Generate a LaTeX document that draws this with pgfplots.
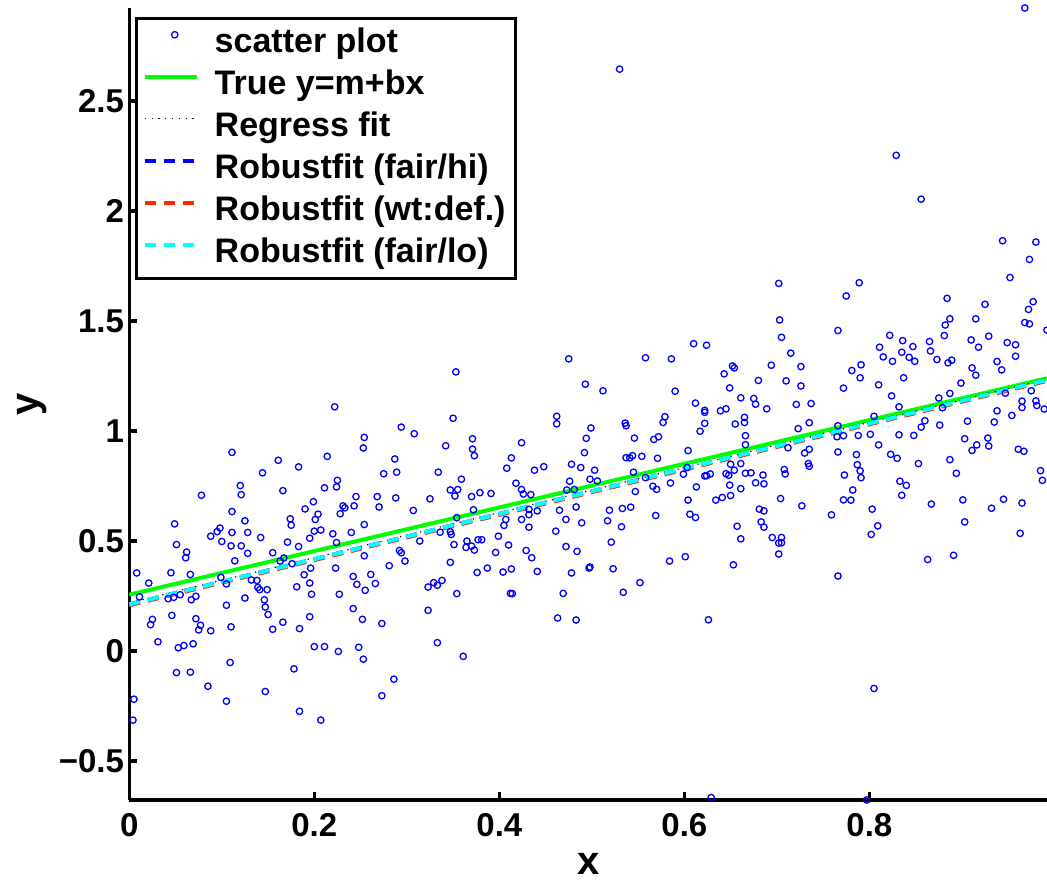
\documentclass[border=0pt]{standalone}
\usepackage{fontspec}
\setmainfont{Liberation Sans}
\usepackage{pgfplots}
\pgfplotsset{compat=1.18}
\definecolor{mred}{rgb}{1,0.16,0}
\definecolor{mcyan}{rgb}{0,1,1}
\definecolor{mgreen}{rgb}{0,1,0}
\definecolor{mblue}{rgb}{0,0,1}
\pgfplotsset{
  lineleg/.style={legend image code/.code={\draw[##1] (0pt,4.5pt) -- (26pt,4.5pt); \path (0pt,0pt) (32pt,0pt);}},
  dotleg/.style={legend image code/.code={\draw[##1] plot coordinates {(15pt,4.5pt)}; \path (0pt,0pt) (32pt,0pt);}},
}
\begin{document}
\begin{tikzpicture}
\begin{axis}[
  scale only axis, width=458.85pt, height=396pt,
  xmin=0, xmax=0.992, ymin=-0.677, ymax=2.923,
  clip=false,
  axis x line*=bottom, axis y line*=left,
  axis line style={line width=1.75pt, -},
  xtick pos=bottom, ytick pos=left,
  xtick={0,0.2,0.4,0.6,0.8}, xticklabels={0,0.2,0.4,0.6,0.8},
  ytick={-0.5,0,0.5,1,1.5,2,2.5}, yticklabels={−0.5,0,0.5,1,1.5,2,2.5},
  tick align=inside, major tick length=4pt,
  major tick style={line width=1.75pt, black},
  tick label style={font=\bfseries\fontsize{16.5}{18}\selectfont},
  yticklabel style={inner xsep=2.5pt},
  xticklabel style={inner ysep=6.5pt},
  xlabel={x}, ylabel={y},
  label style={font=\bfseries\fontsize{20}{22}\selectfont},
  xlabel style={at={(axis description cs:0.5,-0.094)}, anchor=base},
  ylabel style={at={(axis description cs:-0.0994,0.5)}, anchor=base},
  legend cell align=left,
  legend style={at={(axis description cs:0,1)}, anchor=north west,
    xshift=2.85pt, yshift=-4.5pt, draw=black, line width=1.75pt,
    font=\bfseries\fontsize{17}{20}\selectfont,
    inner xsep=3pt, inner ysep=4pt, row sep=4pt,
    nodes={inner xsep=2pt, inner ysep=0pt, text height=13pt, text depth=4pt}},
]
% scatter of the data
\addplot[only marks, mark=o, mark size=1.6pt, mblue, line width=0.65pt, dotleg]
coordinates {
(0.222,1.110) (0.294,1.018) (0.308,0.988) (0.254,0.971) (0.253,0.923) (0.111,0.903) (0.214,0.885) (0.161,0.867)
(0.287,0.873) (0.183,0.837) (0.144,0.810) (0.275,0.806) (0.289,0.813) (0.334,0.813) (0.225,0.776) (0.211,0.742)
(0.224,0.746) (0.120,0.752) (0.166,0.729) (0.078,0.708) (0.121,0.711) (0.245,0.702) (0.268,0.702) (0.288,0.696)
(0.325,0.692) (0.199,0.679) (0.231,0.660) (0.233,0.651) (0.243,0.660) (0.270,0.655) (0.190,0.646) (0.111,0.634)
(0.307,0.639) (0.204,0.622) (0.228,0.624) (0.174,0.601) (0.201,0.598) (0.125,0.592) (0.049,0.578) (0.175,0.572)
(0.254,0.575) (0.098,0.559) (0.095,0.543) (0.111,0.539) (0.128,0.539) (0.200,0.545) (0.207,0.550) (0.220,0.533)
(0.240,0.539) (0.088,0.522) (0.142,0.516) (0.195,0.513)
(0.051,0.484) (0.100,0.498) (0.110,0.478) (0.121,0.478) (0.171,0.495) (0.183,0.475) (0.224,0.493) (0.314,0.500)
(0.062,0.450) (0.061,0.424) (0.128,0.444) (0.155,0.447) (0.114,0.410) (0.167,0.423) (0.163,0.409) (0.254,0.433)
(0.292,0.457) (0.294,0.447) (0.298,0.409) (0.008,0.355) (0.045,0.356) (0.066,0.348) (0.176,0.397) (0.189,0.347)
(0.196,0.377) (0.223,0.377) (0.281,0.388) (0.021,0.309) (0.099,0.335) (0.105,0.305) (0.132,0.323) (0.138,0.321)
(0.139,0.289) (0.141,0.279) (0.149,0.279) (0.181,0.292) (0.195,0.309) (0.242,0.339) (0.246,0.303) (0.255,0.276)
(0.261,0.348) (0.266,0.307) (0.323,0.291) (0.329,0.311) (0.333,0.299) (0.011,0.246) (0.042,0.238) (0.048,0.244)
(0.055,0.256) (0.067,0.233) (0.072,0.249) (0.125,0.241) (0.146,0.233) (0.197,0.258) (0.227,0.258) (0.105,0.208)
(0.147,0.200) (0.150,0.166) (0.242,0.193) (0.323,0.185) (0.046,0.162) (0.072,0.147) (0.195,0.156) (0.252,0.144)
(0.273,0.125) (0.025,0.144) (0.023,0.120) (0.077,0.117) (0.075,0.096) (0.088,0.092) (0.110,0.110) (0.155,0.099)
(0.166,0.131) (0.184,0.102) (0.031,0.042) (0.053,0.015) (0.059,0.025) (0.069,0.033) (0.200,0.020) (0.211,0.020)
(0.226,-0.002) (0.248,0.017) (0.253,-0.037) (0.333,0.038) (0.109,-0.052) (0.051,-0.098) (0.066,-0.096) (0.178,-0.081)
(0.085,-0.160) (0.286,-0.128) (0.147,-0.184) (0.273,-0.203) (0.005,-0.219) (0.105,-0.228) (0.184,-0.274) (0.207,-0.314)
(0.004,-0.314)
(0.610,1.397) (0.624,1.390) (0.475,1.328) (0.558,1.333) (0.586,1.328) (0.353,1.269) (0.643,1.260) (0.652,1.296)
(0.654,1.287) (0.493,1.213) (0.512,1.183) (0.590,1.181) (0.649,1.196) (0.661,1.151) (0.612,1.127) (0.350,1.058)
(0.462,1.067) (0.462,1.033) (0.499,1.014) (0.536,1.036) (0.537,1.024) (0.579,1.065) (0.577,1.039) (0.622,1.094)
(0.622,1.085) (0.639,1.092) (0.645,1.101) (0.665,1.062) (0.665,1.039) (0.655,1.032) (0.622,1.035) (0.617,0.999)
(0.666,0.979) (0.666,0.938) (0.371,0.965) (0.371,0.918) (0.373,0.888) (0.424,0.947) (0.494,0.967) (0.546,0.968)
(0.567,0.962) (0.572,0.974) (0.342,0.933) (0.492,0.902) (0.604,0.911) (0.413,0.878) (0.408,0.831) (0.438,0.822)
(0.448,0.838) (0.478,0.849) (0.488,0.834) (0.503,0.822) (0.537,0.879) (0.541,0.878) (0.544,0.888) (0.554,0.885)
(0.571,0.876) (0.545,0.813) (0.359,0.781) (0.418,0.763) (0.476,0.772) (0.498,0.781) (0.506,0.773) (0.558,0.788)
(0.603,0.834) (0.599,0.804) (0.622,0.796) (0.624,0.797) (0.628,0.805) (0.645,0.806) (0.648,0.799) (0.654,0.822)
(0.650,0.849) (0.661,0.852) (0.666,0.808) (0.347,0.732) (0.355,0.734) (0.352,0.705) (0.370,0.702) (0.379,0.720)
(0.391,0.716) (0.424,0.734) (0.426,0.714) (0.434,0.711) (0.473,0.732) (0.481,0.734) (0.566,0.749) (0.570,0.735)
(0.585,0.764) (0.613,0.746) (0.649,0.754) (0.661,0.738) (0.650,0.707) (0.641,0.698) (0.634,0.686) (0.547,0.725)
(0.604,0.686) (0.372,0.642) (0.354,0.606) (0.407,0.598) (0.424,0.598) (0.432,0.644) (0.432,0.620) (0.441,0.637)
(0.465,0.640) (0.483,0.655) (0.472,0.598) (0.519,0.640) (0.533,0.648) (0.542,0.654) (0.606,0.622) (0.612,0.607)
(0.489,0.583) (0.517,0.592) (0.405,0.571) (0.432,0.563) (0.532,0.565) (0.569,0.616) (0.657,0.567) (0.399,0.522)
(0.461,0.545) (0.347,0.542) (0.348,0.530) (0.661,0.510) (0.336,0.540)
(0.351,0.484) (0.365,0.500) (0.364,0.471) (0.370,0.477) (0.373,0.459) (0.377,0.506) (0.381,0.506) (0.396,0.448)
(0.410,0.482) (0.429,0.457) (0.435,0.424) (0.472,0.475) (0.484,0.453) (0.521,0.495) (0.347,0.403) (0.376,0.357)
(0.387,0.377) (0.404,0.359) (0.413,0.373) (0.441,0.362) (0.478,0.355) (0.497,0.377) (0.498,0.382) (0.523,0.374)
(0.584,0.409) (0.601,0.429) (0.653,0.392) (0.338,0.321) (0.354,0.261) (0.412,0.262) (0.414,0.261) (0.469,0.262)
(0.534,0.267) (0.552,0.311) (0.463,0.150) (0.483,0.141) (0.626,0.142) (0.361,-0.024) (0.629,-0.666)
(0.952,1.698) (0.702,1.671) (0.789,1.674) (0.775,1.614) (0.884,1.603) (0.925,1.576) (0.977,1.588) (0.972,1.553)
(0.968,1.493) (0.973,1.487) (0.887,1.510) (0.882,1.482) (0.915,1.510) (0.703,1.505) (0.766,1.457) (0.705,1.426)
(0.822,1.435) (0.836,1.411) (0.881,1.434) (0.910,1.414) (0.929,1.431) (0.992,1.459) (0.811,1.381) (0.847,1.384)
(0.865,1.407) (0.866,1.364) (0.918,1.381) (0.949,1.402) (0.958,1.392) (0.715,1.354) (0.815,1.337) (0.825,1.317)
(0.835,1.358) (0.843,1.335) (0.849,1.317) (0.873,1.325) (0.885,1.310) (0.889,1.322) (0.958,1.340) (0.938,1.316)
(0.943,1.278) (0.694,1.299) (0.726,1.293) (0.781,1.275) (0.791,1.301) (0.911,1.287) (0.915,1.254) (0.790,1.242)
(0.837,1.242) (0.680,1.230) (0.710,1.228) (0.726,1.205) (0.772,1.195) (0.810,1.210) (0.899,1.218) (0.675,1.148)
(0.677,1.122) (0.689,1.101) (0.721,1.121) (0.737,1.125) (0.824,1.160) (0.832,1.110) (0.875,1.150) (0.887,1.171)
(0.879,1.106) (0.947,1.172) (0.965,1.136) (0.965,1.107) (0.980,1.137) (0.981,1.116) (0.989,1.100) (0.975,1.183)
(0.938,1.092) (0.954,1.071) (0.805,1.067) (0.735,1.038) (0.723,1.011) (0.766,1.024) (0.860,1.047) (0.856,1.018)
(0.876,1.027) (0.906,1.045) (0.935,1.041) (0.765,0.974) (0.772,0.979) (0.788,0.980) (0.801,0.985) (0.832,0.983)
(0.848,0.980) (0.810,0.937) (0.903,0.965) (0.928,0.968) (0.916,0.937) (0.929,0.932) (0.911,0.912) (0.961,0.917)
(0.967,0.908) (0.712,0.924) (0.730,0.900) (0.735,0.917) (0.766,0.905) (0.786,0.893) (0.823,0.894) (0.830,0.876)
(0.853,0.852) (0.887,0.870) (0.734,0.852) (0.735,0.840) (0.787,0.847) (0.790,0.819) (0.791,0.788) (0.708,0.825)
(0.709,0.805) (0.773,0.800) (0.894,0.808) (0.985,0.820) (0.987,0.776) (0.672,0.810) (0.685,0.800) (0.677,0.765)
(0.686,0.760) (0.833,0.772) (0.840,0.753) (0.782,0.732) (0.835,0.708) (0.704,0.693) (0.772,0.687) (0.780,0.686)
(0.727,0.660) (0.867,0.668) (0.901,0.687) (0.945,0.690) (0.932,0.649) (0.965,0.673) (0.681,0.645) (0.686,0.637)
(0.803,0.645) (0.759,0.619) (0.683,0.587) (0.686,0.563) (0.809,0.569) (0.903,0.587) (0.802,0.530) (0.963,0.535)
(0.695,0.516) (0.705,0.516)
(0.702,0.491) (0.705,0.492) (0.702,0.441) (0.766,0.341) (0.863,0.416) (0.891,0.435) (0.805,-0.170) (0.797,-0.677)
(0.530,2.645) (0.968,2.923) (0.829,2.253) (0.856,2.054) (0.944,1.865) (0.980,1.859) (0.973,1.780)
};
\addlegendentry{scatter plot}
\addplot[mgreen, line width=2pt, lineleg] coordinates {(0,0.256) (0.992,1.240)};
\addlegendentry{True y=m+bx}
\addplot[black, line width=0.6pt, dash pattern=on 0.6pt off 2.8pt, lineleg] coordinates {(0,0.219) (0.992,1.236)};
\addlegendentry{Regress fit}
\addplot[mblue, line width=2pt, dash pattern=on 5.5pt off 4pt, lineleg] coordinates {(0,0.212) (0.992,1.232)};
\addlegendentry{Robustfit (fair/hi)}
\addplot[mred, line width=2pt, dash pattern=on 5.5pt off 4pt, lineleg] coordinates {(0,0.208) (0.992,1.228)};
\addlegendentry{Robustfit (wt:def.)}
\addplot[mcyan, line width=2pt, dash pattern=on 5.5pt off 4pt, lineleg] coordinates {(0,0.212) (0.992,1.232)};
\addlegendentry{Robustfit (fair/lo)}
\end{axis}
\pgfresetboundingbox
\path ([shift={(-64.65pt,-40.5pt)}]current axis.south west) rectangle ([shift={(0pt,4pt)}]current axis.north east);
\end{tikzpicture}
\end{document}
